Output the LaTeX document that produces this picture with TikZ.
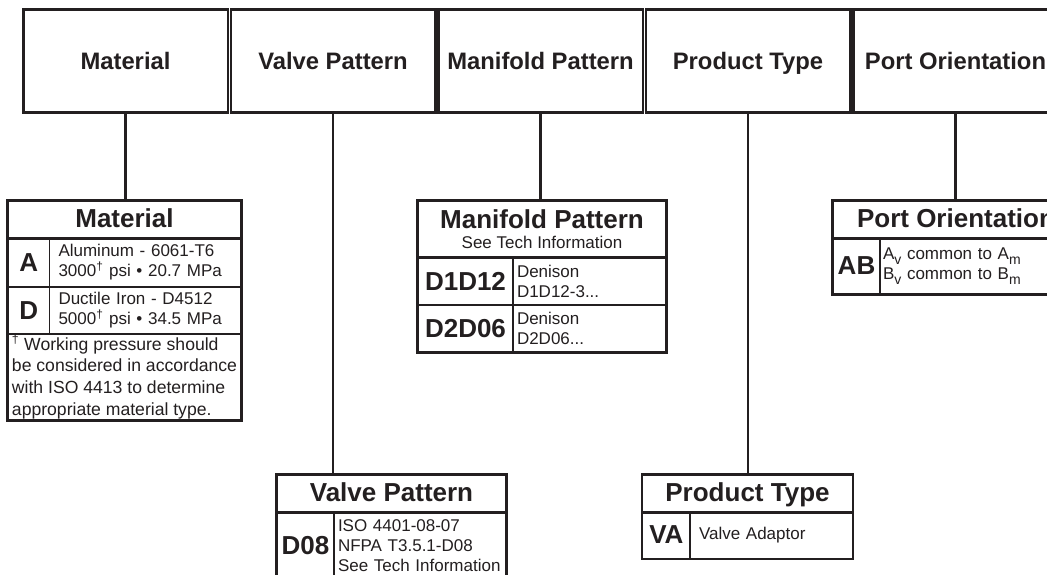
\documentclass[tikz,border=0pt]{standalone}
\usepackage{fontspec}
\setmainfont{Liberation Sans}
\definecolor{ink}{RGB}{35,31,32}
\newcommand{\lowsub}[1]{\raisebox{-4.5pt}{\fontsize{14}{14}\selectfont #1}}
\begin{document}
\begin{tikzpicture}[x=1pt, y=-1pt,
    topbox/.style={draw=ink, line width=2.5pt, minimum width=204.5pt, minimum height=103pt, inner sep=0pt, text=ink, text height=17pt, text depth=0pt, font=\bfseries\fontsize{23.8}{28}\selectfont},
    cell/.style={draw=ink, line width=1.4pt, inner sep=0pt, text=ink},
    head/.style={cell, font=\bfseries\fontsize{26}{30}\selectfont},
    title/.style={head, text height=19pt, text depth=3pt},
    code/.style={cell, font=\bfseries\fontsize{26}{30}\selectfont},
    desc/.style={cell, align=left, inner ysep=0pt, font=\fontsize{17}{20}\selectfont},
    frame/.style={draw=ink, line width=2.6pt},
    link/.style={draw=ink, line width=2.2pt}
  ]
  \path[use as bounding box, fill=white] (0,0) rectangle (1047,575);
  \clip (0,0) rectangle (1047,575);

  \node[topbox] (tmat) at (125.5, 61) {Material};
  \node[topbox] (tval) at (333, 61) {Valve Pattern};
  \node[topbox] (tman) at (540.5, 61) {Manifold Pattern};
  \node[topbox] (tprod) at (748, 61) {Product Type};
  \node[topbox] (tport) at (955.5, 61) {Port Orientation};

  \node[title, minimum width=233pt, minimum height=36.5pt] (mhead) at (124.5, 219.25) {Material};
  \node[code, minimum width=41.5pt, minimum height=49.5pt] (mcodeA) at (28.75, 262.25) {A};
  \node[desc, text width=173.5pt, inner xsep=9pt, minimum height=49.5pt] (mtextA) at (145.25, 262.25) {Aluminum - 6061-T6\\3000\textsuperscript{†} psi • 20.7 MPa};
  \node[code, minimum width=41.5pt, minimum height=47pt] (mcodeD) at (28.75, 310.5) {D};
  \node[desc, text width=173.5pt, inner xsep=9pt, minimum height=47pt] (mtextD) at (145.25, 310.5) {Ductile Iron - D4512\\5000\textsuperscript{†} psi • 34.5 MPa};
  \node[desc, minimum width=233pt, minimum height=86pt, font=\fontsize{17.6}{21.8}\selectfont] (mnote) at (124.5, 377) {\textsuperscript{†} Working pressure should\\be considered in accordance\\with ISO 4413 to determine\\appropriate material type.};

  \node[head, minimum width=248pt, minimum height=56pt, align=center, font=\bfseries\fontsize{26}{20.5}\selectfont] (fhead) at (542, 229) {Manifold Pattern\\{\mdseries\fontsize{17}{20.5}\selectfont See Tech Information}};
  \node[code, minimum width=95pt, minimum height=48pt] (fcode1) at (465.5, 281) {D1D12};
  \node[desc, text width=145pt, inner xsep=4pt, minimum height=48pt] (ftext1) at (589.5, 281) {Denison\\D1D12-3...};
  \node[code, minimum width=95pt, minimum height=47pt] (fcode2) at (465.5, 328.5) {D2D06};
  \node[desc, text width=145pt, inner xsep=4pt, minimum height=47pt] (ftext2) at (589.5, 328.5) {Denison\\D2D06...};

  \node[title, minimum width=246pt, minimum height=37pt] (ohead) at (956, 219.5) {Port Orientation};
  \node[code, minimum width=47pt, minimum height=56pt] (ocode) at (856.5, 266) {AB};
  \node[desc, text width=193pt, inner xsep=3pt, minimum height=56pt] (otext) at (979.5, 266) {A\lowsub{v} common to A\lowsub{m}\\B\lowsub{v} common to B\lowsub{m}};

  \node[title, minimum width=229pt, minimum height=36.7pt] (vhead) at (391.5, 493.35) {Valve Pattern};
  \node[code, minimum width=57pt, minimum height=68.3pt] (vcode) at (305.5, 545.85) {D08};
  \node[desc, text width=164pt, inner xsep=4pt, minimum height=68.3pt] (vtext) at (420, 545.85) {ISO 4401-08-07\\NFPA T3.5.1-D08\\See Tech Information};

  \node[title, minimum width=209.6pt, minimum height=36.7pt] (phead) at (747.5, 493.35) {Product Type};
  \node[code, minimum width=47.3pt, minimum height=46.6pt] (pcode) at (666.35, 535) {VA};
  \node[desc, text width=144.3pt, inner xsep=9pt, minimum height=46.6pt] (ptext) at (771.15, 535) {Valve Adaptor};

  \draw[frame] (mhead.north west) rectangle (mnote.south east) (mhead.south west) -- (mhead.south east);
  \draw[frame] (fhead.north west) rectangle (ftext2.south east) (fhead.south west) -- (fhead.south east);
  \draw[frame] (ohead.north west) rectangle (otext.south east) (ohead.south west) -- (ohead.south east);
  \draw[frame] (vhead.north west) rectangle (vtext.south east) (vhead.south west) -- (vhead.south east);
  \draw[frame] (phead.north west) rectangle (ptext.south east) (phead.south west) -- (phead.south east);

  \draw[link] (tmat.south) -- (tmat.south |- mhead.north);
  \draw[link] (tval.south) -- (tval.south |- vhead.north);
  \draw[link] (tman.south) -- (tman.south |- fhead.north);
  \draw[link] (tprod.south) -- (tprod.south |- phead.north);
  \draw[link] (tport.south) -- (tport.south |- ohead.north);
\end{tikzpicture}
\end{document}
